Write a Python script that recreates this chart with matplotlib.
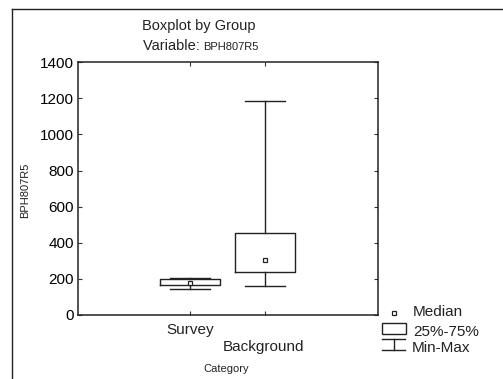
import matplotlib
matplotlib.use("Agg")
import matplotlib.pyplot as plt
from matplotlib.lines import Line2D
from matplotlib.patches import Rectangle

plt.rcParams['font.family'] = ['Liberation Sans', 'DejaVu Sans']

categories = ["Survey", "Background"]
mins = [145, 161]
q1s = [166, 237]
medians = [175, 305]
q3s = [197, 453]
maxs = [205, 1187]
yticks = [0, 200, 400, 600, 800, 1000, 1200, 1400]

fig = plt.figure(figsize=(5.03, 3.79), dpi=100)
W, H = 503, 379
ax = fig.add_axes([78 / W, 1 - 315 / H, (377.5 - 78) / W, (315 - 62.3) / H])

positions = [1, 2]
stats = []
for i, c in enumerate(categories):
    stats.append(dict(label=c, whislo=mins[i], q1=q1s[i], med=medians[i],
                      q3=q3s[i], whishi=maxs[i], fliers=[]))

ax.bxp(stats, positions=positions, widths=0.8, showfliers=False,
       boxprops=dict(color='#222222', linewidth=1.0),
       whiskerprops=dict(color='#222222', linewidth=1.0),
       capprops=dict(color='#222222', linewidth=1.0),
       medianprops=dict(linewidth=0), capwidths=0.53)
ax.plot(positions, medians, linestyle='none', marker='s', markersize=3.2,
        markerfacecolor='white', markeredgecolor='#222222', markeredgewidth=0.9)

ax.set_xlim(-0.5, 3.5)
ax.set_ylim(0, 1400)
ax.set_yticks(yticks)
ax.set_yticklabels([str(v) for v in yticks], fontsize=11)
ax.set_xticks(positions)
ax.set_xticklabels([])
ax.tick_params(axis='both', direction='in', length=3, width=0.8, color='#333333',
               top=True, right=True, pad=3)
for s in ax.spines.values():
    s.set_linewidth(1.1)
    s.set_color('#222222')

# staggered category labels
fig.text(190 / W, 1 - 330 / H, categories[0], ha='center', va='center', fontsize=11, color='#222222')
fig.text(264 / W, 1 - 347 / H, categories[1], ha='center', va='center', fontsize=11, color='#222222')
fig.text(226 / W, 1 - 369 / H, "Category", ha='center', va='center', fontsize=8, color='#222222')

# titles
fig.text(199 / W, 1 - 26 / H, "Boxplot by Group", ha='center', va='center', fontsize=10.5, color='#222222')
fig.text(173 / W, 1 - 46 / H, "Variable: ", ha='center', va='center', fontsize=10.5, color='#222222')
fig.text(203 / W, 1 - 46.5 / H, "BPH807R5", ha='left', va='center', fontsize=8, color='#222222')

# y label
fig.text(25 / W, 1 - 190 / H, "BPH807R5", rotation=90, ha='center', va='center', fontsize=8, color='#222222')

# outer frame
fig.add_artist(Line2D([12 / W, 12 / W], [0, 1 - 9 / H], transform=fig.transFigure, color='#222222', linewidth=1.0))
fig.add_artist(Line2D([12 / W, 1], [1 - 9 / H, 1 - 9 / H], transform=fig.transFigure, color='#222222', linewidth=1.0))

# legend
fig.add_artist(Line2D([394 / W], [1 - 313 / H], transform=fig.transFigure, marker='s', markersize=3.2,
                      markerfacecolor='white', markeredgecolor='#222222', markeredgewidth=0.9, linestyle='none'))
fig.text(413 / W, 1 - 312.5 / H, "Median", ha='left', va='center', fontsize=11, color='#222222')
fig.add_artist(Rectangle((382 / W, 1 - 334 / H), 23.5 / W, 11.5 / H, transform=fig.transFigure,
                         fill=False, edgecolor='#222222', linewidth=1.0))
fig.text(413 / W, 1 - 331.5 / H, "25%-75%", ha='left', va='center', fontsize=11, color='#222222')
fig.add_artist(Line2D([382 / W, 405 / W], [1 - 338.5 / H, 1 - 338.5 / H], transform=fig.transFigure, color='#222222', linewidth=1.0))
fig.add_artist(Line2D([393.5 / W, 393.5 / W], [1 - 338.5 / H, 1 - 350 / H], transform=fig.transFigure, color='#222222', linewidth=1.0))
fig.add_artist(Line2D([382 / W, 405 / W], [1 - 350 / H, 1 - 350 / H], transform=fig.transFigure, color='#222222', linewidth=1.0))
fig.text(412 / W, 1 - 348 / H, "Min-Max", ha='left', va='center', fontsize=11, color='#222222')

fig.savefig("out.png", dpi=100)
